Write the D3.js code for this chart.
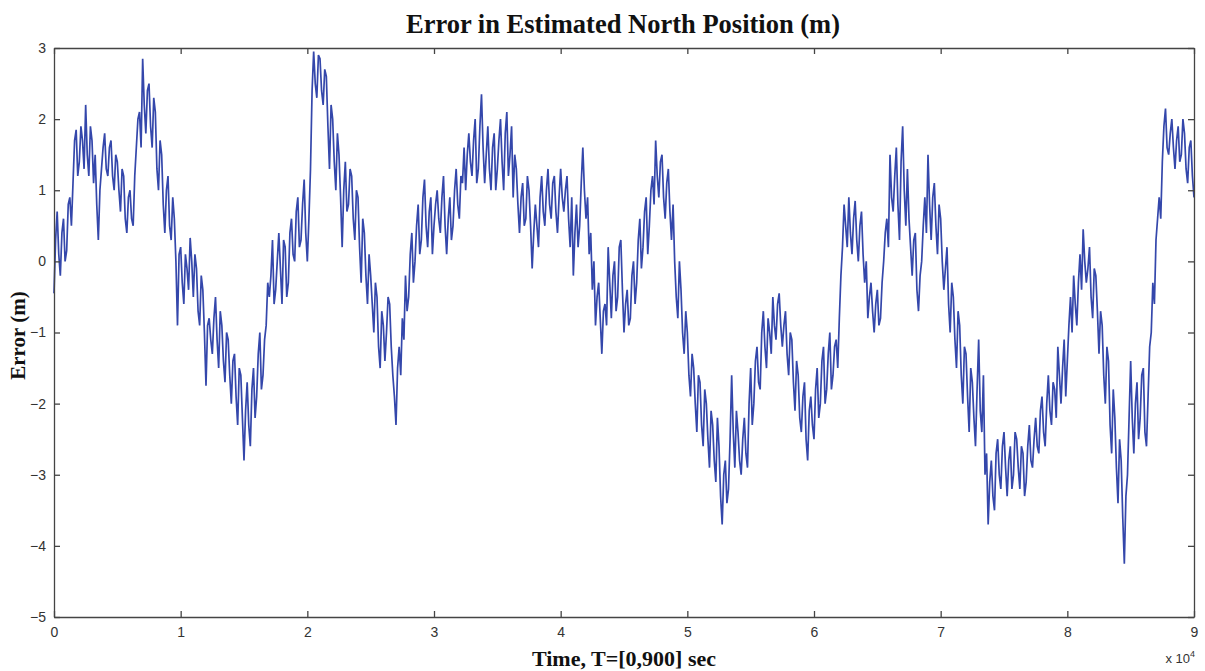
<!DOCTYPE html>
<html>
<head>
<meta charset="utf-8">
<script src="https://cdn.jsdelivr.net/npm/d3@7"></script>
<style>
  body { margin: 0; background: #fff; }
  svg { display: block; }
</style>
</head>
<body>
<div id="chart"></div>
<script>
// tick labels
var timeTicks = [0, 1, 2, 3, 4, 5, 6, 7, 8, 9];
var errorTicks = [-5, -4, -3, -2, -1, 0, 1, 2, 3];

// one sample every 0.0125 (x 10^4)
var sampleStep = 0.0125;
var northError = [
  -0.45, 0.3, 0.7, 0.1, -0.2, 0.4, 0.6, 0.0, 0.15, 0.8, 0.9, 0.5, 1.1, 1.7, 1.85, 1.2, 1.4, 1.9, 1.7, 1.3,
  2.2, 1.5, 1.2, 1.9, 1.7, 1.1, 1.5, 0.8, 0.3, 1.0, 1.3, 1.6, 1.8, 1.3, 1.2, 1.6, 1.7, 1.2, 1.0, 1.5,
  1.4, 1.0, 0.7, 1.3, 1.2, 0.6, 0.4, 0.9, 1.0, 0.6, 0.5, 1.2, 1.6, 2.0, 2.1, 1.6, 2.85, 2.2, 1.8, 2.4,
  2.5, 1.9, 1.6, 2.3, 2.1, 1.3, 1.0, 1.7, 1.5, 0.8, 0.4, 1.0, 1.2, 0.5, 0.3, 0.9, 0.6, 0.0, -0.9, 0.1,
  0.2, -0.3, -0.6, 0.1, -0.1, -0.4, 0.33, 0.0, -0.5, 0.1, -0.1, -0.7, -0.9, -0.2, -0.4, -1.0, -1.75, -0.9, -0.8, -1.1,
  -1.3, -0.8, -0.5, -1.1, -1.5, -0.7, -0.9, -1.4, -1.7, -1.0, -1.1, -1.6, -2.0, -1.4, -1.3, -1.9, -2.3, -1.5, -1.6, -2.2,
  -2.8, -2.1, -1.7, -2.3, -2.6, -1.8, -1.5, -2.2, -1.9, -1.3, -1.0, -1.8, -1.6, -1.1, -0.9, -0.3, -0.5, -0.2, 0.3, -0.6,
  -0.4, 0.0, 0.4, -0.1, -0.6, 0.3, 0.2, -0.5, -0.3, 0.4, 0.6, 0.1, 0.0, 0.7, 0.9, 0.2, 0.3, 0.8, 1.15, 0.4,
  0.0, 0.6, 1.3, 2.4, 2.95, 2.5, 2.3, 2.9, 2.85, 2.4, 2.2, 2.7, 2.6, 1.9, 1.3, 2.2, 2.0, 1.4, 1.0, 1.8,
  1.5, 0.9, 0.2, 1.0, 1.4, 0.7, 0.8, 1.3, 1.2, 0.6, 0.3, 1.0, 0.9, 0.2, -0.3, 0.6, 0.4, -0.2, -0.6, 0.1,
  -0.2, -0.6, -1.0, -0.3, -0.5, -1.2, -1.5, -0.7, -0.9, -1.4, -1.0, -0.5, -0.6, -1.2, -1.6, -1.9, -2.3, -1.5, -1.2, -1.6,
  -0.8, -1.1, -0.2, -0.7, -0.5, 0.1, 0.4, -0.3, 0.0, 0.5, 0.8, 0.1, 0.3, 0.9, 1.15, 0.5, 0.2, 0.7, 0.9, 0.1,
  0.5, 0.8, 1.0, 0.6, 0.4, 0.9, 1.2, 0.5, 0.1, 0.6, 0.9, 0.3, 0.5, 1.0, 1.3, 0.8, 0.6, 1.2, 1.1, 1.6,
  1.0, 1.5, 1.8, 1.4, 1.2, 1.7, 2.0, 1.1, 1.3, 1.9, 2.35, 1.6, 1.1, 1.5, 1.9, 1.3, 1.0, 1.6, 1.8, 1.0,
  1.3, 1.7, 2.0, 1.4, 1.0, 1.8, 2.1, 1.2, 1.5, 1.9, 0.9, 1.5, 1.3, 0.8, 0.4, 0.9, 1.1, 0.5, 0.6, 1.2,
  1.0, 0.5, -0.1, 0.4, 0.8, 0.5, 0.2, 0.9, 1.2, 0.7, 0.5, 1.0, 1.3, 0.8, 0.6, 1.1, 1.2, 0.7, 0.4, 0.9,
  1.3, 0.9, 0.7, 1.0, 1.2, 0.6, 0.2, 0.9, -0.2, 0.4, 0.8, 0.2, 0.5, 1.1, 1.6, 1.0, 0.6, 0.9, 0.1, 0.4,
  -0.4, 0.0, -0.9, -0.5, -0.3, -0.8, -1.3, -0.7, -0.6, -0.9, 0.2, -0.3, -0.8, -0.2, 0.0, -0.7, -0.5, 0.2, 0.3, -0.4,
  -1.0, -0.6, -0.4, -0.9, -0.8, -0.2, 0.0, -0.6, -0.3, 0.3, 0.6, -0.1, 0.2, 0.7, 0.9, 0.1, 0.5, 1.0, 1.2, 0.8,
  1.7, 1.2, 0.9, 1.4, 1.5, 0.9, 0.6, 1.1, 1.3, 0.7, 0.3, 0.8, 0.0, -0.5, -0.8, 0.0, -0.4, -1.0, -1.3, -0.7,
  -1.0, -1.6, -1.9, -1.3, -1.5, -2.0, -2.4, -1.6, -1.7, -2.3, -2.6, -1.8, -2.0, -2.5, -2.9, -2.1, -2.3, -2.8, -3.1, -2.2,
  -2.6, -3.3, -3.7, -3.0, -2.8, -3.4, -3.2, -2.5, -1.6, -2.4, -2.9, -2.1, -2.4, -2.8, -3.0, -2.5, -2.2, -2.7, -2.9, -2.0,
  -1.5, -2.3, -2.0, -1.4, -1.2, -1.7, -1.8, -1.0, -0.7, -1.2, -1.5, -0.8, -1.0, -1.3, -0.5, -0.9, -1.1, -0.6, -0.45, -0.9,
  -1.2, -0.9, -0.7, -1.3, -1.6, -1.0, -1.1, -1.7, -2.1, -1.4, -1.6, -2.2, -2.4, -1.9, -1.7, -2.5, -2.8, -2.1, -1.9, -2.3,
  -2.5, -1.8, -1.5, -2.2, -2.0, -1.4, -1.2, -2.0, -1.8, -1.3, -1.0, -1.8, -1.6, -1.2, -1.1, -1.5, -0.8, -0.2, 0.2, 0.8,
  0.5, 0.2, 0.9, 0.4, 0.1, 0.6, 0.85, 0.3, 0.0, 0.5, 0.7, 0.1, -0.3, 0.0, -0.8, -0.5, -0.3, -0.7, -1.0, -0.6,
  -0.4, -0.9, -0.8, -0.3, 0.0, 0.4, 0.6, 0.2, 1.5, 0.9, 0.7, 1.2, 1.6, 0.8, 0.3, 1.4, 1.9, 1.0, 0.5, 1.3,
  0.6, 0.2, -0.2, 0.3, 0.4, -0.4, -0.7, -0.2, 0.0, 0.5, 0.9, 0.4, 1.5, 0.8, 0.3, 0.9, 1.1, 0.5, 0.1, 0.8,
  0.6, 0.0, -0.4, -0.1, 0.2, -0.6, -1.0, -0.3, -0.5, -1.1, -1.5, -0.7, -0.9, -1.6, -2.0, -1.2, -1.3, -1.9, -2.4, -1.5,
  -1.7, -2.2, -2.6, -1.8, -1.1, -2.1, -2.4, -1.6, -3.0, -2.7, -3.7, -3.1, -2.8, -3.3, -3.5, -2.7, -2.5, -3.0, -3.2, -2.6,
  -2.4, -2.9, -3.3, -2.8, -2.6, -3.2, -3.0, -2.4, -2.5, -2.9, -3.2, -2.6, -2.7, -3.3, -3.1, -2.6, -2.3, -2.8, -2.9, -2.5,
  -2.2, -2.6, -2.7, -2.1, -1.9, -2.4, -2.6, -2.0, -1.6, -2.1, -2.3, -1.7, -1.8, -2.2, -1.2, -1.6, -2.0, -1.5, -1.1, -1.9,
  -1.4, -0.9, -0.5, -1.0, -0.2, -0.6, -0.9, -0.3, 0.1, -0.4, 0.45, 0.0, -0.3, -0.1, 0.2, -0.5, -0.8, -0.1, -0.2, -0.7,
  -1.3, -0.7, -0.9, -1.6, -2.0, -1.2, -1.4, -2.3, -2.7, -1.8, -2.2, -2.9, -3.4, -2.5, -2.8, -3.6, -4.25, -3.3, -3.0, -2.2,
  -1.4, -2.2, -2.7, -2.0, -1.7, -2.5, -2.2, -1.6, -1.5, -2.4, -2.6, -1.9, -1.2, -1.0, -0.3, -0.6, 0.3, 0.6, 0.9, 0.6,
  1.4, 1.9, 2.15, 1.6, 1.5, 1.8, 2.0, 1.6, 1.3, 1.7, 1.9, 1.4, 1.5, 2.0, 1.8, 1.3, 1.1, 1.6, 1.7, 1.2,
  0.9
];

var chartTitle = "Error in Estimated North Position (m)";
var xLabel = "Time, T=[0,900] sec";
var yLabel = "Error (m)";

var width = 1205, height = 671;
var margin = {top: 48, right: 11, bottom: 54, left: 54};
var plotW = width - margin.left - margin.right,
    plotH = height - margin.top - margin.bottom;

var svg = d3.select("#chart")
  .append("svg")
    .attr("width", width)
    .attr("height", height);

var g = svg.append("g")
  .attr("transform", "translate(" + margin.left + "," + margin.top + ")");

var x = d3.scaleLinear().domain([0, 9]).range([0, plotW]);
var y = d3.scaleLinear().domain([-5, 3]).range([plotH, 0]);

var points = northError.map(function (v, i) { return {t: i * sampleStep, v: v}; });

// the data line
var line = d3.line()
  .x(function (d) { return x(d.t); })
  .y(function (d) { return y(d.v); });

g.append("path")
  .datum(points)
  .attr("fill", "none")
  .attr("stroke", "#3447ab")
  .attr("stroke-width", 1.7)
  .attr("d", line);

// axes, matlab style: ticks pointing in, on all four sides
var tickLen = 6;
function styleAxis(sel) {
  sel.select(".domain").attr("stroke", "#444").attr("stroke-width", 1.3);
  sel.selectAll(".tick line").attr("stroke", "#444").attr("stroke-width", 1.3);
  sel.selectAll(".tick text")
    .attr("fill", "#333")
    .style("font-family", "'Liberation Sans', Arial, sans-serif")
    .style("font-size", "14px");
}

g.append("g")
  .attr("transform", "translate(0," + plotH + ")")
  .call(d3.axisBottom(x).tickValues(timeTicks).tickFormat(d3.format("d"))
    .tickSizeInner(-tickLen).tickSizeOuter(0).tickPadding(10))
  .call(styleAxis);

g.append("g")
  .call(d3.axisTop(x).tickValues(timeTicks).tickFormat("")
    .tickSizeInner(-tickLen).tickSizeOuter(0))
  .call(styleAxis);

g.append("g")
  .call(d3.axisLeft(y).tickValues(errorTicks).tickFormat(d3.format("d"))
    .tickSizeInner(-tickLen).tickSizeOuter(0).tickPadding(8))
  .call(styleAxis);

g.append("g")
  .attr("transform", "translate(" + plotW + ",0)")
  .call(d3.axisRight(y).tickValues(errorTicks).tickFormat("")
    .tickSizeInner(-tickLen).tickSizeOuter(0))
  .call(styleAxis);

// exponent note under the right end of the x axis
var expo = svg.append("text")
  .attr("x", margin.left + plotW + 1)
  .attr("y", 663)
  .attr("text-anchor", "end")
  .attr("fill", "#333")
  .style("font-family", "'Liberation Sans', Arial, sans-serif")
  .style("font-size", "13px");
expo.append("tspan").text("x 10");
expo.append("tspan").attr("dy", -6).style("font-size", "9px").text("4");

// title and axis labels
svg.append("text")
  .attr("x", 623)
  .attr("y", 33)
  .attr("text-anchor", "middle")
  .style("font-family", "'Liberation Serif', 'Times New Roman', serif")
  .style("font-weight", "bold")
  .style("font-size", "26.5px")
  .attr("fill", "#111")
  .text(chartTitle);

svg.append("text")
  .attr("x", 624)
  .attr("y", 666)
  .attr("text-anchor", "middle")
  .style("font-family", "'Liberation Serif', 'Times New Roman', serif")
  .style("font-weight", "bold")
  .style("font-size", "22px")
  .attr("fill", "#111")
  .text(xLabel);

svg.append("text")
  .attr("transform", "translate(25," + (margin.top + plotH / 2 + 3) + ") rotate(-90)")
  .attr("text-anchor", "middle")
  .style("font-family", "'Liberation Serif', 'Times New Roman', serif")
  .style("font-weight", "bold")
  .style("font-size", "21px")
  .attr("fill", "#111")
  .text(yLabel);
</script>
</body>
</html>
